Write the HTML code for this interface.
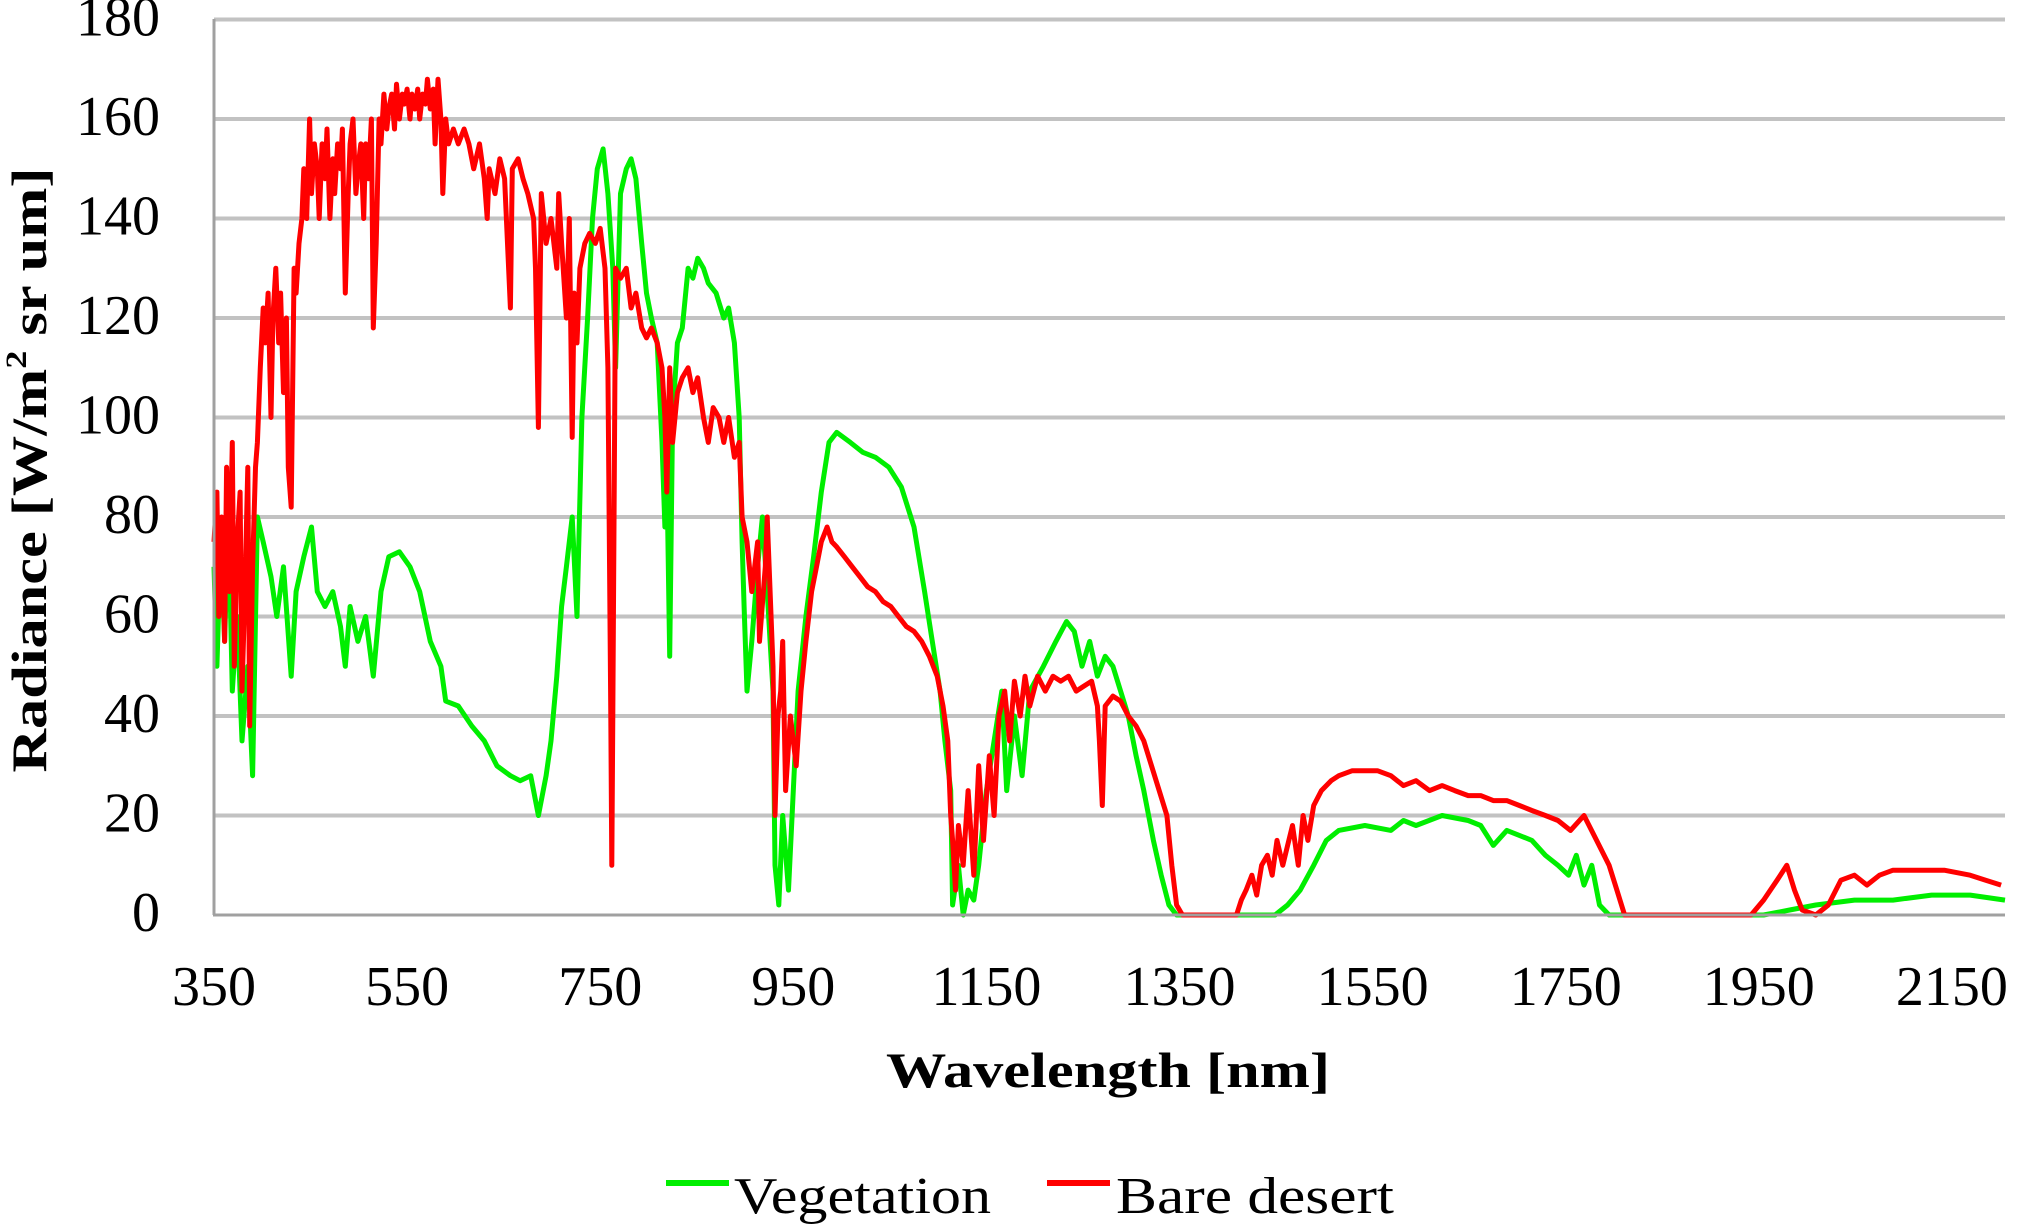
<!DOCTYPE html>
<html><head><meta charset="utf-8"><style>
html,body{margin:0;padding:0;background:#fff;}
svg{display:block;}
text{font-family:"Liberation Serif",serif;fill:#000;}
</style></head><body>
<svg id="chart" width="2019" height="1228" viewBox="0 0 2019 1228" xmlns="http://www.w3.org/2000/svg">
<g id="grid"></g>
<g id="yticks"></g>
<g id="xticks"></g>
<g id="series"></g>
<line x1="214" y1="19" x2="214" y2="915" stroke="#a0a0a0" stroke-width="3"/>
<line x1="213" y1="915" x2="2005" y2="915" stroke="#a0a0a0" stroke-width="3"/>
<text transform="translate(46,470) rotate(-90)" text-anchor="middle" font-size="50" font-weight="bold" textLength="605" lengthAdjust="spacingAndGlyphs">Radiance [W/m<tspan font-size="30" dy="-20">2</tspan><tspan dy="20"> sr um]</tspan></text>
<text x="1108" y="1087" text-anchor="middle" font-size="50" font-weight="bold" textLength="444" lengthAdjust="spacingAndGlyphs">Wavelength [nm]</text>
<g>
<g>
<line x1="666" y1="1183" x2="729" y2="1183" stroke="#00ee00" stroke-width="6"/>
<text x="734" y="1213" font-size="52" textLength="257" lengthAdjust="spacingAndGlyphs">Vegetation</text>
</g>
<g>
<line x1="1047" y1="1183" x2="1110" y2="1183" stroke="#ff0000" stroke-width="6"/>
<text x="1116" y="1213" font-size="52" textLength="278" lengthAdjust="spacingAndGlyphs">Bare desert</text>
</g>
</g>
</svg>
<script>
const yTicks=[0,20,40,60,80,100,120,140,160,180];
const xTicks=[350,550,750,950,1150,1350,1550,1750,1950,2150];
const vegWl=[350,353,357,361,365,369,374,379,385,390,395,401,409,415,422,430,435,443,451,457,465,473,481,486,491,499,507,515,523,531,542,553,563,574,585,590,603,617,630,643,657,667,678,686,694,699,705,710,715,721,726,731,737,742,747,753,758,763,766,771,777,782,787,793,798,803,809,814,817,819,822,825,830,835,841,846,851,857,862,870,878,883,889,894,897,899,902,907,913,918,923,929,931,935,939,945,950,955,963,971,979,987,995,1009,1022,1035,1049,1062,1075,1086,1094,1102,1107,1113,1115,1121,1126,1131,1137,1142,1150,1158,1166,1171,1179,1187,1195,1209,1222,1233,1241,1249,1257,1265,1273,1281,1289,1297,1305,1313,1323,1331,1339,1347,1409,1429,1449,1462,1475,1489,1502,1515,1542,1569,1582,1595,1622,1649,1662,1675,1689,1702,1715,1729,1742,1753,1761,1769,1777,1785,1795,1862,1955,1982,2009,2049,2089,2129,2169,2205];
const vegVal=[70,50,75,55,80,45,60,35,50,28,80,75,68,60,70,48,65,72,78,65,62,65,58,50,62,55,60,48,65,72,73,70,65,55,50,43,42,38,35,30,28,27,28,20,28,35,48,62,70,80,60,100,120,140,150,154,145,130,110,145,150,152,148,135,125,120,115,95,78,90,52,100,115,118,130,128,132,130,127,125,120,122,115,100,75,62,45,55,70,80,65,45,10,2,20,5,25,45,60,72,85,95,97,95,93,92,90,86,78,65,55,45,35,25,2,10,0,5,3,10,25,35,45,25,40,28,45,50,55,59,57,50,55,48,52,50,45,40,32,25,15,8,2,0,0,0,0,2,5,10,15,17,18,17,19,18,20,19,18,14,17,16,15,12,10,8,12,6,10,2,0,0,0,1,2,3,3,4,4,3];
const desWl=[350,353,355,358,361,363,366,369,371,374,377,379,382,385,387,390,393,395,398,401,403,406,409,411,414,417,419,422,425,427,430,433,435,438,441,443,446,449,451,454,457,459,462,465,467,470,473,475,478,481,483,486,489,491,494,497,499,502,505,507,510,513,515,518,521,523,526,529,531,534,537,539,542,545,547,550,553,555,558,561,563,566,569,571,574,577,579,582,585,587,590,593,598,603,609,614,619,625,630,633,635,641,646,651,657,659,665,670,675,681,683,686,689,694,699,705,707,710,715,718,721,723,726,729,734,739,745,750,755,758,761,762,763,766,771,777,782,787,793,798,803,809,814,817,819,822,825,830,835,841,846,851,857,862,867,873,878,883,889,894,897,902,907,913,915,921,923,929,931,934,937,939,942,947,953,958,963,969,974,979,985,990,995,1003,1011,1019,1027,1035,1043,1051,1059,1067,1075,1083,1091,1099,1105,1110,1113,1115,1118,1121,1126,1131,1137,1142,1147,1153,1158,1163,1169,1174,1179,1185,1190,1195,1203,1211,1219,1227,1235,1243,1251,1259,1265,1267,1270,1273,1281,1289,1297,1305,1313,1321,1329,1337,1342,1347,1353,1409,1414,1419,1425,1430,1435,1441,1446,1451,1457,1462,1467,1473,1478,1483,1489,1497,1507,1515,1529,1542,1555,1569,1582,1595,1609,1622,1635,1649,1662,1675,1689,1702,1715,1729,1742,1755,1769,1782,1795,1803,1811,1942,1955,1969,1979,1987,1995,2009,2022,2035,2049,2062,2075,2089,2115,2142,2169,2185,2201];
const desVal=[75,85,60,80,55,90,65,95,50,75,85,45,65,90,38,70,90,95,110,122,115,125,100,120,130,115,125,105,120,90,82,130,125,135,140,150,140,160,145,155,150,140,155,148,158,140,152,145,155,150,158,125,145,155,160,145,150,155,140,155,148,160,118,135,160,155,165,158,162,165,158,167,160,165,163,166,160,165,162,166,160,165,163,168,162,166,155,168,160,145,160,155,158,155,158,155,150,155,148,140,150,145,152,148,122,150,152,148,145,140,130,98,145,135,140,130,145,135,120,140,96,125,115,130,135,137,135,138,130,110,40,10,40,130,128,130,122,125,118,116,118,115,110,100,85,110,95,105,108,110,105,108,100,95,102,100,95,100,92,95,80,75,65,75,55,70,80,50,20,40,45,55,25,40,30,45,55,65,70,75,78,75,74,72,70,68,66,65,63,62,60,58,57,55,52,48,42,35,20,15,5,18,10,25,8,30,15,32,20,40,45,35,47,40,48,42,48,45,48,47,48,45,46,47,42,35,22,42,44,43,40,38,35,30,25,20,10,2,0,0,3,5,8,4,10,12,8,15,10,14,18,10,20,15,22,25,27,28,29,29,29,28,26,27,25,26,25,24,24,23,23,22,21,20,19,17,20,15,10,5,0,0,3,7,10,5,1,0,2,7,8,6,8,9,9,9,8,7,6];

const NS='http://www.w3.org/2000/svg';
const X0=214,X1=2005,Y0=915,Y1=19.5;
const xMin=350,xMax=2205,yMin=0,yMax=180;
function xs(v){return X0+(v-xMin)/(xMax-xMin)*(X1-X0);}
function ys(v){return Y0-(v-yMin)/(yMax-yMin)*(Y0-Y1);}
const grid=document.getElementById('grid');
const yt=document.getElementById('yticks');
const xt=document.getElementById('xticks');
yTicks.forEach(function(t){
  if(t>0){
    const l=document.createElementNS(NS,'line');
    
    
    l.setAttribute('x1',X0);l.setAttribute('x2',X1);
    l.setAttribute('y1',ys(t));l.setAttribute('y2',ys(t));
    l.setAttribute('stroke','#c2c2c2');l.setAttribute('stroke-width','4');
    grid.appendChild(l);
  }
  const tx=document.createElementNS(NS,'text');
  
  
  tx.setAttribute('x',160);tx.setAttribute('y',ys(t)+16);
  tx.setAttribute('text-anchor','end');tx.setAttribute('font-size','56');
  tx.textContent=t;
  yt.appendChild(tx);
});
xTicks.forEach(function(t){
  const tx=document.createElementNS(NS,'text');
  
  
  tx.setAttribute('x',xs(t));tx.setAttribute('y',1005);
  tx.setAttribute('text-anchor','middle');tx.setAttribute('font-size','56');
  tx.textContent=t;
  xt.appendChild(tx);
});
function drawSeries(wl,val,color,name){
  const p=document.createElementNS(NS,'polyline');
  
  
  p.setAttribute('points',wl.map(function(w,i){return xs(w).toFixed(1)+','+ys(val[i]).toFixed(1);}).join(' '));
  p.setAttribute('fill','none');p.setAttribute('stroke',color);
  p.setAttribute('stroke-width','5');p.setAttribute('stroke-linejoin','round');
  document.getElementById('series').appendChild(p);
}
drawSeries(vegWl,vegVal,'#00ee00','vegetation-line');
drawSeries(desWl,desVal,'#ff0000','bare-desert-line');
</script>
</body></html>
